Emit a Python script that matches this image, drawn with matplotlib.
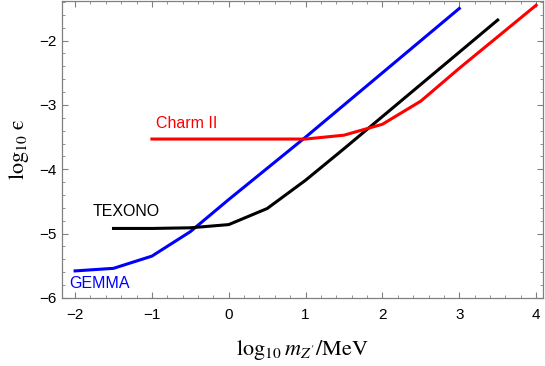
import matplotlib
matplotlib.use("Agg")
import matplotlib.pyplot as plt
from matplotlib.ticker import MultipleLocator

plt.rcParams.update({
    "font.family": "Liberation Sans",
    "mathtext.fontset": "stix",
})

# ── data ───────────────────────────────────────────────────────────────────
gemma_x = [-2.0, -1.5, -1.0, -0.5, 0.0, 1.0, 2.0, 3.0]
gemma_y = [-5.58, -5.54, -5.35, -4.97, -4.47, -3.5, -2.5, -1.5]

texono_x = [-1.5, -1.0, -0.5, 0.0, 0.5, 1.0, 1.5, 2.0, 2.5, 3.0, 3.5]
texono_y = [-4.92, -4.92, -4.91, -4.86, -4.61, -4.17, -3.68, -3.18, -2.68, -2.18, -1.68]

charm_x = [-1.0, -0.5, 0.0, 0.5, 1.0, 1.5, 2.0, 2.5, 3.0, 3.5, 4.0]
charm_y = [-3.53, -3.53, -3.53, -3.53, -3.53, -3.47, -3.30, -2.94, -2.43, -1.94, -1.45]

FRAME = "#808080"

fig = plt.figure(figsize=(5.45, 3.66), dpi=100)
ax = fig.add_axes([0.1138, 0.186, 0.8826, 0.812])

ax.plot(gemma_x, gemma_y, color="#0000ff", lw=2.2)
ax.plot(texono_x, texono_y, color="black", lw=2.2)
ax.plot(charm_x, charm_y, color="#ff0000", lw=2.2)

ax.text(-2.08, -5.77, "GEMMA", color="#0000ff", fontsize=11.5, va="center", ha="left")
ax.text(-1.77, -4.65, "TEXONO", color="black", fontsize=11.5, va="center", ha="left")
ax.text(-0.95, -3.29, "Charm II", color="#ff0000", fontsize=11.5, va="center", ha="left")

ax.set_xlim(-2.17, 4.09)
ax.set_ylim(-6.0, -1.38)

ax.xaxis.set_major_locator(MultipleLocator(1))
ax.xaxis.set_minor_locator(MultipleLocator(0.2))
ax.yaxis.set_major_locator(MultipleLocator(1))
ax.yaxis.set_minor_locator(MultipleLocator(0.2))
ax.tick_params(which="both", direction="in", top=True, right=True,
               color=FRAME, labelsize=11, labelcolor="black")
ax.tick_params(which="major", length=4, width=0.8)
ax.tick_params(which="minor", length=2.2, width=0.6)
ax.tick_params(axis="x", pad=7)
ax.tick_params(axis="y", pad=4)
ax.tick_params(top=True, right=True, labeltop=False, labelright=False)
for s in ax.spines.values():
    s.set_color(FRAME)
    s.set_linewidth(0.9)

ax.set_xlabel(r"$\log_{10} m_{Z'}/\mathrm{MeV}$", fontsize=16, labelpad=12)
ax.set_ylabel(r"$\log_{10}\,\mathrm{ϵ}$", fontsize=16, labelpad=6)

fig.savefig("out.png", dpi=100)
